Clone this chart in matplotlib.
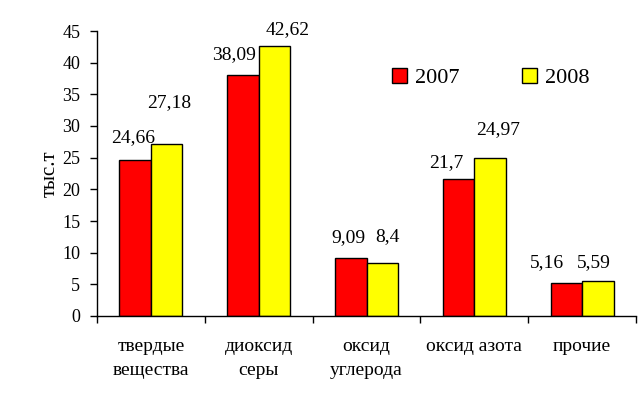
import matplotlib
matplotlib.use("Agg")
import matplotlib.pyplot as plt
import numpy as np

plt.rcParams['font.family'] = ['Liberation Serif', 'DejaVu Serif']

categories = ['твердые\nвещества', 'диоксид\nсеры', 'оксид\nуглерода', 'оксид азота', 'прочие']
values_2007 = [24.66, 38.09, 9.09, 21.7, 5.16]
values_2008 = [27.18, 42.62, 8.4, 24.97, 5.59]
labels_2007 = ['24,66', '38,09', '9,09', '21,7', '5,16']
labels_2008 = ['27,18', '42,62', '8,4', '24,97', '5,59']

# label offsets from bar top (pixels), as placed in the original
offs_2007 = [(-2, 22), (-9, 20), (-2, 21), (-12, 16), (-19, 21)]
offs_2008 = [(3, 41), (13, 16), (5, 26), (8, 28), (-4, 18)]

fig = plt.figure(figsize=(6.41, 3.97), dpi=100)
ax = fig.add_axes([97/641, 1 - 316/397, (636 - 97)/641, (316 - 31)/397])

x = np.arange(len(categories))
w = 0.292
b1 = ax.bar(x - w/2, values_2007, w, color='#ff0000', edgecolor='black', linewidth=1, label='2007')
b2 = ax.bar(x + w/2, values_2008, w, color='#ffff00', edgecolor='black', linewidth=1, label='2008')

for rect, txt, (dx, dy) in zip(b1, labels_2007, offs_2007):
    ax.annotate(txt, (rect.get_x() + rect.get_width()/2, rect.get_height()),
                xytext=(dx, dy), textcoords='offset pixels',
                ha='center', va='center', fontsize=14)
for rect, txt, (dx, dy) in zip(b2, labels_2008, offs_2008):
    ax.annotate(txt, (rect.get_x() + rect.get_width()/2, rect.get_height()),
                xytext=(dx, dy), textcoords='offset pixels',
                ha='center', va='center', fontsize=14)

ax.set_xlim(-0.5, len(categories) - 0.5)
ax.set_ylim(0, 45)
ax.set_yticks(np.arange(0, 46, 5))
ax.tick_params(axis='y', labelsize=13, length=5, width=1, pad=7)

ax.set_xticks(np.arange(-0.5, len(categories), 1))
ax.set_xticklabels([])
ax.set_xticks(x, minor=True)
ax.set_xticklabels(categories, minor=True, fontsize=14, linespacing=1.5)
ax.tick_params(axis='x', which='major', length=5, width=1)
ax.tick_params(axis='x', which='minor', length=0, pad=16)

for s in ['top', 'right']:
    ax.spines[s].set_visible(False)
ax.spines['left'].set_linewidth(1)
ax.spines['bottom'].set_linewidth(1)

ax.set_ylabel('тыс.т', fontsize=15, labelpad=2)

fig.legend(loc='center left', bbox_to_anchor=(381/641, 1 - 78/397), ncol=2,
           frameon=False, fontsize=16, handlelength=0.65, handleheight=0.65,
           handletextpad=0.4, columnspacing=2.8, borderpad=0)

fig.savefig('out.png', dpi=100)
